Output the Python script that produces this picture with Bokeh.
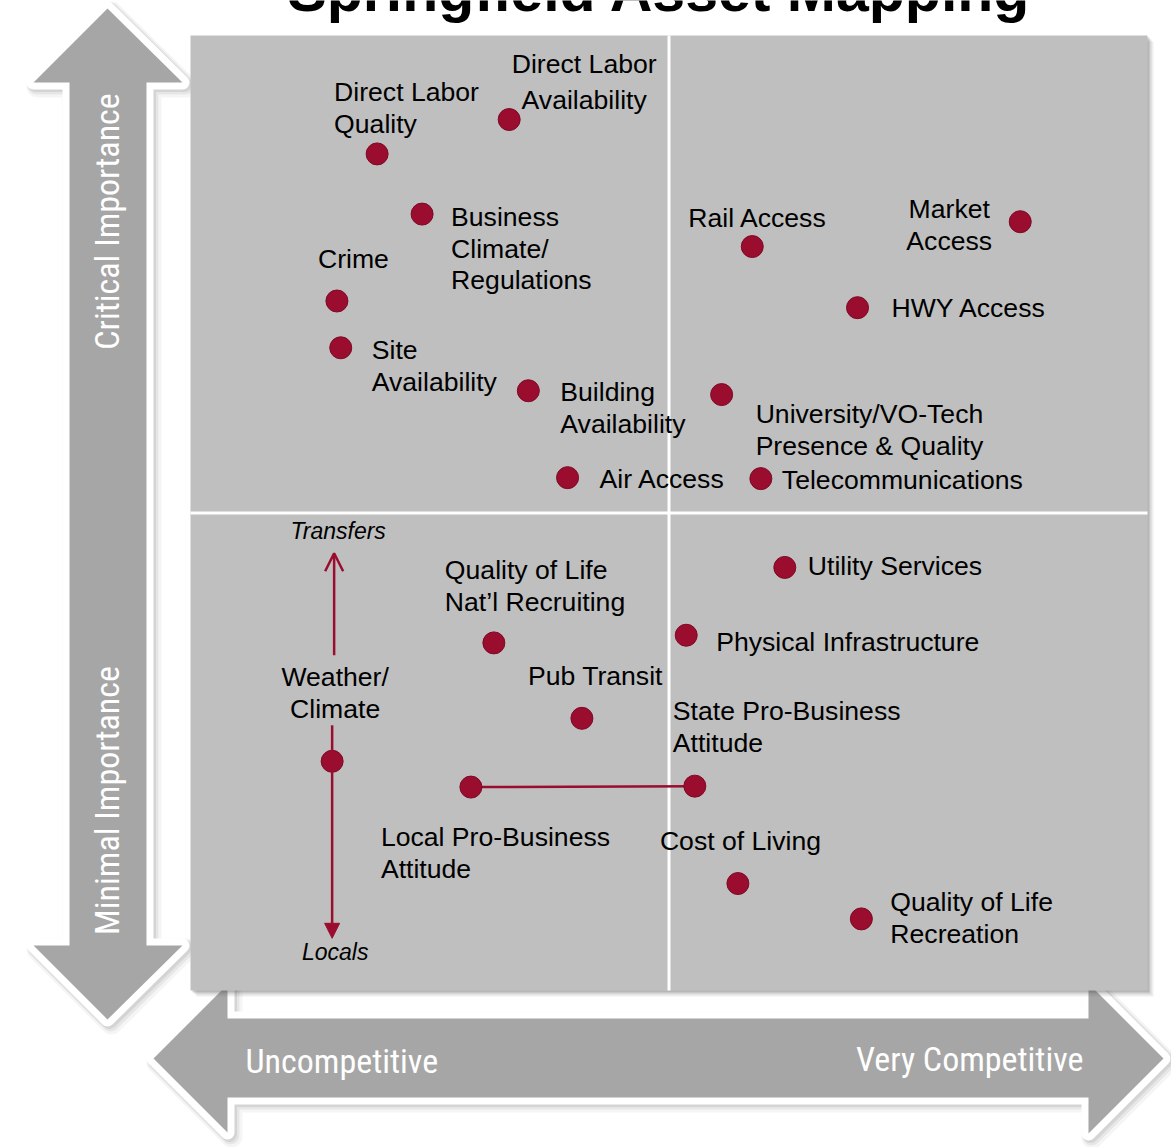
from bokeh.plotting import figure
from bokeh.models import Range1d, Arrow, OpenHead, NormalHead
from bokeh.core.properties import value
from bokeh.embed import file_html
from bokeh.resources import INLINE

# ---------------- data ----------------
title_text = "Springfield Asset Mapping"
factors = [
    "Direct Labor\nQuality",
    "Direct Labor\nAvailability",
    "Business\nClimate/\nRegulations",
    "Crime",
    "Site\nAvailability",
    "Building\nAvailability",
    "Air Access",
    "Rail Access",
    "Market\nAccess",
    "HWY Access",
    "University/VO-Tech\nPresence & Quality",
    "Telecommunications",
    "Utility Services",
    "Physical Infrastructure",
    "Quality of Life\nNat\u2019l Recruiting",
    "Pub Transit",
    "Weather/\nClimate",
    "Local Pro-Business\nAttitude",
    "State Pro-Business\nAttitude",
    "Cost of Living",
    "Quality of Life\nRecreation",
]
# competitiveness: 0 (uncompetitive) .. 10 (very competitive)
competitiveness = [1.95, 3.33, 2.42, 1.53, 1.57, 3.53, 3.94, 5.87, 8.67, 6.97, 5.55,
                   5.96, 6.21, 5.18, 3.17, 4.09, 1.48, 2.93, 5.27, 5.72, 7.01]
# importance: 0 (minimal) .. 10 (critical)
importance = [8.76, 9.12, 8.13, 7.22, 6.73, 6.28, 5.37, 7.79, 8.05, 7.15, 6.24,
              5.36, 4.43, 3.72, 3.64, 2.85, 2.40, 2.13, 2.14, 1.12, 0.75]
y_axis_labels = ["Critical Importance", "Minimal Importance"]
x_axis_labels = ["Uncompetitive", "Very Competitive"]
weather_arrow_labels = ["Transfers", "Locals"]
linked_pair = (17, 18)      # Local / State Pro-Business Attitude
weather_index = 16

# ---------------- layout / style ----------------
W, H = 1171, 1147
PX, PY = 95.7, 95.5          # pixels per unit
LEFT, BOTTOM = 190, 990       # reference pixel of data origin
def X(rx):
    return (rx - LEFT) / PX
def Y(ry):
    return (BOTTOM - ry) / PY

CRIMSON = "#9a0d2f"
ARROW_GRAY = "#a6a6a6"
BOX_GRAY = "#bfbfbf"
FONT = "Liberation Sans"
NARROW = "Roboto Condensed"

# label offsets from the point (pixels, screen: +x right, +y down), align, line height
label_dx = [-43, 75, 29, -19, 31, 32, 32, -64, -71, 34, 34, 21, 23, 30, -49, -54, 3, -90, -22, -78, 29]
label_dy = [-46, -37.5, 34.5, -42, 18, 17.5, 1, -29, 3, 0, 35, 1, -1, 7, -57, -42, -68.5, 66, -59, -43, -1]
label_align = ["left", "center", "left", "left", "left", "left", "left", "left", "center", "left",
               "left", "left", "left", "left", "left", "left", "center", "left", "left", "left", "left"]
label_lh = [1.07, 1.17, 1.05] + [1.07] * 18

p = figure(width=W, height=H, output_backend="svg", toolbar_location=None,
           x_range=Range1d(X(0), X(W)), y_range=Range1d(Y(H), Y(0)),
           min_border=0, title=None, x_axis_location=None, y_axis_location=None,
           background_fill_color="white", border_fill_color="white")
p.grid.visible = False
p.outline_line_color = None

# ---------------- big double arrows ----------------
vert = [(107, 8), (182, 82), (146, 82), (146, 945), (182, 945), (107, 1019),
        (33, 945), (69, 945), (69, 82), (33, 82)]
horiz = [(153, 1058), (227, 984), (227, 1018), (1088, 1018), (1088, 983), (1163, 1058),
         (1088, 1133), (1088, 1097), (227, 1097), (227, 1132)]

def draw_big_arrow(poly):
    xs = [X(a) for a, b in poly]
    ys = [Y(b) for a, b in poly]
    for off, lw, al in [(4, 22, 0.04), (3, 18, 0.06), (2, 15, 0.08)]:
        p.patch([X(a + off) for a, b in poly], [Y(b + off) for a, b in poly],
                fill_color="black", fill_alpha=al, line_color="black", line_alpha=al,
                line_width=lw, line_join="round")
    p.patch(xs, ys, fill_color="white", line_color="white", line_width=14, line_join="round")
    p.patch(xs, ys, fill_color=ARROW_GRAY, line_color=None)

draw_big_arrow(vert)
draw_big_arrow(horiz)

# ---------------- quadrant box ----------------
for off, al in [(6, 0.10), (4, 0.15), (2, 0.25)]:
    p.quad(left=[0 + off / PX], right=[10 + off / PX], bottom=[0 - off / PY], top=[10 - off / PY],
           fill_color="#555555", fill_alpha=al, line_color=None)
p.quad(left=[0], right=[10], bottom=[0], top=[10], fill_color=BOX_GRAY, line_color=None)
p.segment(x0=[5, 0], y0=[0, 5], x1=[5, 10], y1=[10, 5], line_color="white", line_width=3)

# ---------------- connector + weather arrows ----------------
a, b = linked_pair
p.line([competitiveness[a], competitiveness[b]], [importance[a], importance[b]],
       line_color=CRIMSON, line_width=2.5)

wx, wy = competitiveness[weather_index], importance[weather_index]
p.add_layout(Arrow(end=OpenHead(size=18, line_color=CRIMSON, line_width=2.5),
                   x_start=wx + 2 / PX, y_start=wy + 106 / PY, x_end=wx + 2 / PX, y_end=wy + 208 / PY,
                   line_color=CRIMSON, line_width=2.5))
p.add_layout(Arrow(end=NormalHead(size=15, line_color=CRIMSON, fill_color=CRIMSON, line_width=1),
                   x_start=wx, y_start=wy + 36 / PY, x_end=wx, y_end=wy - 177 / PY,
                   line_color=CRIMSON, line_width=2.5))

# ---------------- points ----------------
p.scatter(competitiveness, importance, size=22, fill_color=CRIMSON, line_color="#7d0a25", line_width=1)

# ---------------- labels ----------------
for i, lab in enumerate(factors):
    p.text(x=[competitiveness[i] + label_dx[i] / PX], y=[importance[i] - label_dy[i] / PY],
           text=[lab], text_align=label_align[i], text_baseline="middle",
           text_font=value(FONT), text_font_size="26.6px", text_color="black",
           text_line_height=label_lh[i])

p.text(x=[wx + 6 / PX, wx + 3 / PX], y=[wy + 230 / PY, wy - 191 / PY], text=weather_arrow_labels,
       text_align="center", text_baseline="middle", text_font=value(FONT),
       text_font_style="italic", text_font_size="23px", text_color="black")

# ---------------- arrow texts ----------------
p.text(x=[X(106), X(106)], y=[Y(221), Y(800)], text=y_axis_labels, angle=1.5707963,
       text_align="center", text_baseline="middle", text_font=value(NARROW),
       text_font_size="34px", text_color="white")
p.text(x=[X(245)], y=[Y(1060)], text=[x_axis_labels[0]], text_align="left", text_baseline="middle",
       text_font=value(NARROW), text_font_size="34px", text_color="white")
p.text(x=[X(1083)], y=[Y(1058)], text=[x_axis_labels[1]], text_align="right", text_baseline="middle",
       text_font=value(NARROW), text_font_size="34px", text_color="white")

# ---------------- title (cut off at top) ----------------
p.text(x=[X(659)], y=[Y(-10)], text=[title_text], text_align="center", text_baseline="middle",
       text_font=value(FONT), text_font_style="bold", text_font_size="59px", text_color="black")

open("out.html", "w").write(file_html(p, INLINE))
